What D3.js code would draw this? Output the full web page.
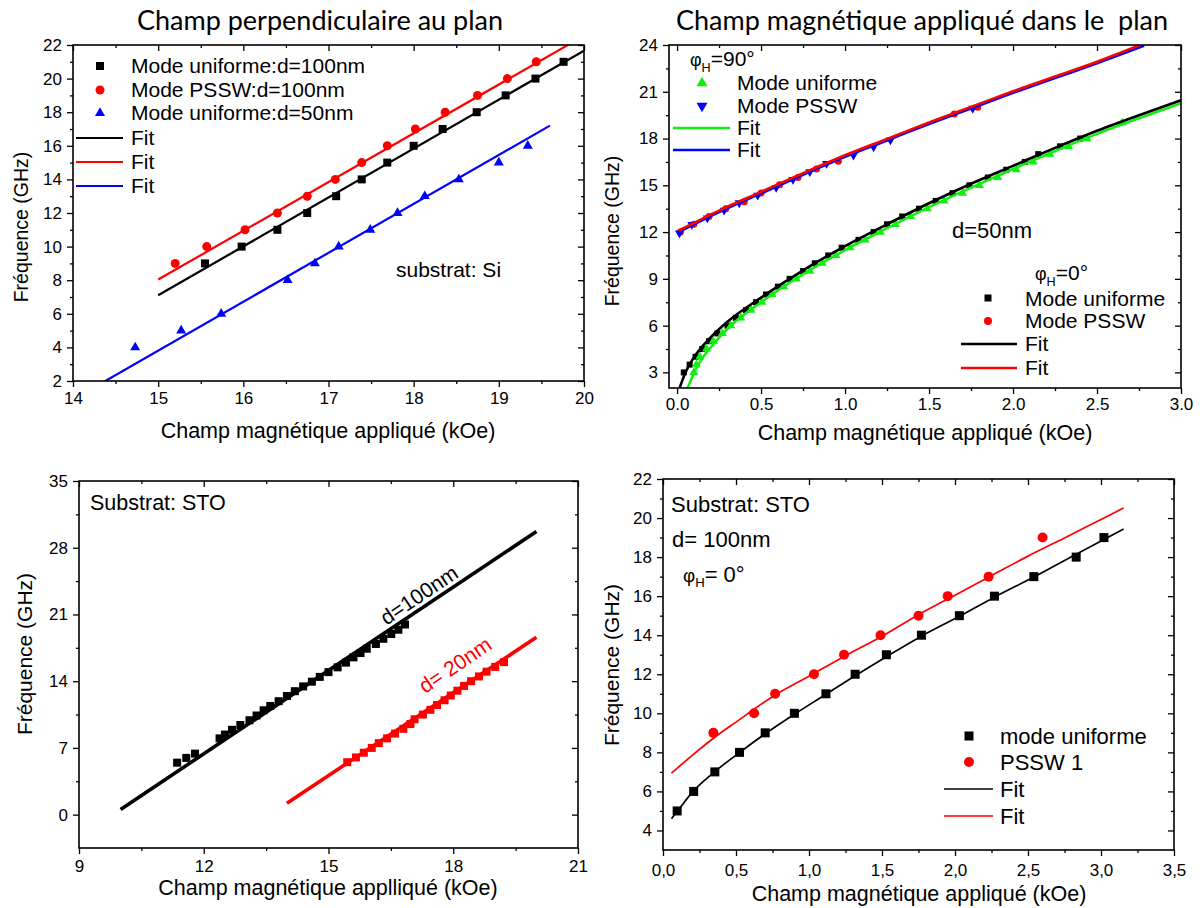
<!DOCTYPE html>
<html><head><meta charset="utf-8">
<script src="https://cdn.jsdelivr.net/npm/d3@7"></script>
<style>body{margin:0;background:#fff}svg{display:block}</style>
</head><body><svg id="c" width="1200" height="908"></svg>
<script>
// ---------------- Panel 1 : Champ perpendiculaire au plan ----------------
const p1XUni100 = [15.55, 15.98, 16.40, 16.75, 17.09, 17.39, 17.69, 18.00, 18.34, 18.74, 19.08, 19.43, 19.76];
const p1YUni100 = [9, 10, 11, 12, 13, 14, 15, 16, 17, 18, 19, 20, 21];
const p1XPssw100 = [15.20, 15.57, 16.02, 16.40, 16.75, 17.08, 17.39, 17.69, 18.02, 18.37, 18.75, 19.10, 19.44];
const p1YPssw100 = [9, 10, 11, 12, 13, 14, 15, 16, 17, 18, 19, 20, 21];
const p1XUni50 = [14.73, 15.27, 15.74, 16.52, 16.84, 17.12, 17.49, 17.81, 18.13, 18.53, 19.00, 19.34];
const p1YUni50 = [4, 5, 6, 8, 9, 10, 11, 12, 13, 14, 15, 16];
const p1FitXUni100 = [15.0, 20.0];
const p1FitYUni100 = [7.1, 21.66];
const p1FitXPssw100 = [15.0, 20.0];
const p1FitYPssw100 = [8.04, 22.55];
const p1FitXUni50 = [14.38, 19.6];
const p1FitYUni50 = [2.0, 17.2];
const p1XTicks = ["14", "15", "16", "17", "18", "19", "20"];
const p1YTicks = ["2", "4", "6", "8", "10", "12", "14", "16", "18", "20", "22"];

// ---------------- Panel 2 : Champ dans le plan ----------------
const p2XPsswBlue = [0.014, 0.088, 0.18, 0.28, 0.37, 0.48, 0.59, 0.69, 0.79, 0.89, 1.05, 1.17, 1.27, 1.76];
const p2YPsswBlue = [11.94, 12.48, 12.9, 13.4, 13.87, 14.36, 14.85, 15.37, 15.86, 16.4, 16.93, 17.46, 17.9, 19.93];
const p2XPsswRed = [0.02, 0.1, 0.19, 0.29, 0.4, 0.5, 0.61, 0.72, 0.83, 0.96, 1.65, 1.79];
const p2YPsswRed = [12.0, 12.5, 13.0, 13.5, 13.95, 14.5, 15.04, 15.5, 16.04, 16.54, 19.57, 20.0];
const p2XUniBlack = [0.04, 0.075, 0.11, 0.15, 0.19, 0.24, 0.30, 0.35, 0.41, 0.47, 0.53, 0.60, 0.67, 0.75, 0.82, 0.90, 0.98, 1.08, 1.17, 1.25, 1.34, 1.44, 1.54, 1.64, 1.74, 1.85, 1.96, 2.07, 2.15, 2.28, 2.40];
const p2YUniBlack = [3.0, 3.5, 4.0, 4.5, 5.0, 5.5, 6.0, 6.5, 7.0, 7.5, 8.0, 8.5, 9.0, 9.5, 10.0, 10.5, 11.0, 11.5, 12.0, 12.5, 13.0, 13.5, 14.0, 14.5, 15.0, 15.5, 16.0, 16.5, 17.0, 17.5, 18.0];
const p2XUniGreen = [0.10, 0.115, 0.135, 0.175, 0.215, 0.27, 0.32, 0.38, 0.44, 0.505, 0.565, 0.635, 0.71, 0.79, 0.865, 0.945, 1.03, 1.12, 1.21, 1.30, 1.39, 1.49, 1.59, 1.70, 1.80, 1.91, 2.02, 2.12, 2.22, 2.33, 2.44, 2.65];
const p2YUniGreen = [3.0, 3.5, 4.0, 4.5, 5.0, 5.5, 6.0, 6.5, 7.0, 7.5, 8.0, 8.5, 9.0, 9.5, 10.0, 10.5, 11.0, 11.5, 12.0, 12.5, 13.0, 13.5, 14.0, 14.5, 15.0, 15.5, 16.0, 16.5, 17.0, 17.5, 18.0, 19.0];
const p2FitXRed = [0.01, 0.25, 0.5, 0.75, 1.0, 1.25, 1.5, 1.75, 2.0, 2.25, 2.5, 2.756];
const p2FitYRed = [12.1, 13.38, 14.58, 15.78, 16.93, 17.98, 19.03, 20.03, 21.03, 21.98, 22.93, 24.0];
const p2FitXBlue = [0.01, 0.25, 0.5, 0.75, 1.0, 1.25, 1.5, 1.75, 2.0, 2.25, 2.5, 2.78];
const p2FitYBlue = [12.0, 13.28, 14.48, 15.68, 16.83, 17.88, 18.93, 19.93, 20.93, 21.88, 22.83, 23.95];
const p2FitXBlack = [0.015, 0.05, 0.1, 0.2, 0.3, 0.5, 0.75, 1.0, 1.25, 1.5, 1.75, 2.0, 2.25, 2.5, 2.75, 3.0];
const p2FitYBlack = [2.0, 3.0, 3.95, 5.25, 6.25, 7.8, 9.55, 11.1, 12.5, 13.85, 15.1, 16.25, 17.4, 18.5, 19.5, 20.45];
const p2FitXGreen = [0.063, 0.1, 0.15, 0.2, 0.3, 0.5, 0.75, 1.0, 1.25, 1.5, 1.75, 2.0, 2.25, 2.5, 2.75, 3.0];
const p2FitYGreen = [2.0, 2.95, 3.9, 4.6, 5.8, 7.5, 9.3, 10.85, 12.25, 13.6, 14.85, 16.05, 17.2, 18.3, 19.3, 20.25];
const p2XTicks = ["0.0", "0.5", "1.0", "1.5", "2.0", "2.5", "3.0"];
const p2YTicks = ["3", "6", "9", "12", "15", "18", "21", "24"];

// ---------------- Panel 3 : STO, champ fort ----------------
const p3XD100 = [11.36, 11.58, 11.79, 12.38, 12.51, 12.68, 12.88, 13.10, 13.27, 13.44, 13.60, 13.80, 14.00, 14.19, 14.39, 14.60, 14.79, 15.00, 15.22, 15.42, 15.60, 15.77, 15.92, 16.14, 16.32, 16.51, 16.68, 16.84];
const p3YD100 = [5.45, 5.95, 6.4, 8.0, 8.4, 8.9, 9.4, 9.9, 10.4, 10.95, 11.4, 11.9, 12.45, 12.95, 13.45, 13.95, 14.45, 14.95, 15.45, 15.95, 16.5, 16.95, 17.4, 17.9, 18.45, 18.95, 19.4, 19.95];
const p3XD20 = [15.45, 15.66, 15.85, 16.04, 16.21, 16.41, 16.60, 16.80, 16.97, 17.07, 17.27, 17.45, 17.61, 17.79, 17.94, 18.10, 18.26, 18.43, 18.62, 18.80, 19.01, 19.22];
const p3YD20 = [5.5, 6.0, 6.5, 7.0, 7.5, 8.0, 8.5, 9.0, 9.5, 10.0, 10.5, 11.0, 11.5, 12.0, 12.5, 13.0, 13.5, 14.0, 14.5, 15.0, 15.5, 16.0];
const p3FitXD100 = [10.0, 20.0];
const p3FitYD100 = [0.55, 29.7];
const p3FitXD20 = [14.0, 20.0];
const p3FitYD20 = [1.2, 18.6];
const p3XTicks = ["9", "12", "15", "18", "21"];
const p3YTicks = ["0", "7", "14", "21", "28", "35"];

// ---------------- Panel 4 : STO, d=100nm, phiH=0 ----------------
const p4XUni = [0.097, 0.21, 0.355, 0.524, 0.70, 0.90, 1.116, 1.316, 1.53, 1.77, 2.03, 2.27, 2.54, 2.83, 3.02];
const p4YUni = [5, 6, 7, 8, 9, 10, 11, 12, 13, 14, 15, 16, 17, 18, 19];
const p4XPssw = [0.345, 0.624, 0.768, 1.034, 1.24, 1.49, 1.75, 1.95, 2.23, 2.60];
const p4YPssw = [9, 10, 11, 12, 13, 14, 15, 16, 17, 19];
const p4FitXUni = [0.058, 0.1, 0.2, 0.35, 0.52, 0.7, 0.9, 1.1, 1.3, 1.53, 1.77, 2.03, 2.27, 2.54, 2.83, 3.02, 3.155];
const p4FitYUni = [4.6, 5.0, 5.95, 6.98, 7.97, 8.95, 9.95, 10.9, 11.85, 12.9, 13.95, 14.97, 15.95, 16.98, 18.15, 18.9, 19.44];
const p4FitXPssw = [0.058, 0.2, 0.35, 0.5, 0.75, 1.0, 1.25, 1.5, 1.75, 2.0, 2.25, 2.5, 2.75, 3.0, 3.155];
const p4FitYPssw = [6.93, 7.85, 8.75, 9.55, 10.85, 11.9, 12.95, 13.95, 15.05, 16.05, 17.05, 18.05, 18.98, 19.93, 20.52];
const p4XTicks = ["0,0", "0,5", "1,0", "1,5", "2,0", "2,5", "3,0", "3,5"];
const p4YTicks = ["4", "6", "8", "10", "12", "14", "16", "18", "20", "22"];

// ======================================================================
const FONT = '"Liberation Sans", Arial, Helvetica, sans-serif';
const TFONT = 'Lato, "Open Sans", sans-serif';
const svg = d3.select('#c');
svg.append('rect').attr('width', 1200).attr('height', 908).attr('fill', '#fff');
const num = s => +s.replace(',', '.');

function minorVals(labels) {
  const v = labels.map(num);
  const out = [];
  for (let i = 0; i < v.length - 1; i++) out.push((v[i] + v[i + 1]) / 2);
  return out;
}

function makePanel(o) {
  const g = svg.append('g');
  const x = d3.scaleLinear().domain(o.xd).range([o.l, o.r]);
  const y = d3.scaleLinear().domain(o.yd).range([o.b, o.t]);
  const cid = 'clip' + o.id;
  svg.append('clipPath').attr('id', cid).append('rect')
    .attr('x', o.l).attr('y', o.t).attr('width', o.r - o.l).attr('height', o.b - o.t);
  const xt = o.xTicks.map(num), yt = o.yTicks.map(num);
  const xm = minorVals(o.xTicks);
  const ym = minorVals(o.yTicks);
  const fx = d3.scaleOrdinal().domain(xt).range(o.xTicks);
  const fy = d3.scaleOrdinal().domain(yt).range(o.yTicks);
  const axes = g.append('g');
  const ax = (axis, tx, ty) => {
    const a = axes.append('g').attr('transform', `translate(${tx},${ty})`).call(axis);
    a.select('.domain').remove();
    return a;
  };
  ax(d3.axisBottom(x).tickValues(xt).tickSize(6).tickPadding(o.xpad).tickFormat(d => fx(d)), 0, o.b);
  ax(d3.axisBottom(x).tickValues(xm).tickSize(3).tickFormat(''), 0, o.b);
  ax(d3.axisTop(x).tickValues(xt).tickSize(-6).tickFormat(''), 0, o.t);
  ax(d3.axisTop(x).tickValues(xm).tickSize(-3).tickFormat(''), 0, o.t);
  ax(d3.axisLeft(y).tickValues(yt).tickSize(6).tickPadding(o.ypad).tickFormat(d => fy(d)), o.l, 0);
  ax(d3.axisLeft(y).tickValues(ym).tickSize(3).tickFormat(''), o.l, 0);
  ax(d3.axisRight(y).tickValues(yt).tickSize(-6).tickFormat(''), o.r, 0);
  ax(d3.axisRight(y).tickValues(ym).tickSize(-3).tickFormat(''), o.r, 0);
  axes.selectAll('.tick line').attr('stroke', '#000').attr('stroke-width', 1.3);
  axes.selectAll('.tick text').attr('font-family', FONT).attr('font-size', o.tfs).attr('fill', '#000');
  const plot = g.append('g').attr('clip-path', `url(#${cid})`);
  const over = g.append('g');
  g.append('rect').attr('x', o.l).attr('y', o.t).attr('width', o.r - o.l).attr('height', o.b - o.t)
    .attr('fill', 'none').attr('stroke', '#000').attr('stroke-width', 1.6);
  return { g, plot, over, x, y };
}

function text(g, str, x, y, size, opt = {}) {
  const t = g.append('text').attr('x', x).attr('y', y + 0.35 * size)
    .attr('font-family', opt.font || FONT).attr('font-size', size)
    .attr('fill', opt.color || '#000').attr('text-anchor', opt.anchor || 'start').text(str);
  if (opt.rotate !== undefined) t.attr('transform', `rotate(${opt.rotate},${x},${y})`);
  return t;
}
function phiText(g, x, y, size, rest) {
  const t = g.append('text').attr('x', x).attr('y', y + 0.35 * size)
    .attr('font-family', FONT).attr('font-size', size).attr('fill', '#000');
  t.append('tspan').text('φ').attr('font-size', size * 0.85);
  t.append('tspan').text('H').attr('font-size', size * 0.6).attr('dy', size * 0.25);
  t.append('tspan').text(rest).attr('dy', -size * 0.25);
}

function scatter(p, X, Y, kind, color, sz) {
  const pts = d3.zip(X, Y);
  const sel = p.plot.selectAll(null).data(pts);
  if (kind === 'square') {
    sel.enter().append('rect').attr('x', d => p.x(d[0]) - sz / 2).attr('y', d => p.y(d[1]) - sz / 2)
      .attr('width', sz).attr('height', sz).attr('fill', color);
  } else if (kind === 'circle') {
    sel.enter().append('circle').attr('cx', d => p.x(d[0])).attr('cy', d => p.y(d[1]))
      .attr('r', sz / 2).attr('fill', color);
  } else {
    const sym = d3.symbol().type(d3.symbolTriangle).size(sz * sz * 0.433);
    sel.enter().append('path').attr('d', sym)
      .attr('transform', d => `translate(${p.x(d[0])},${p.y(d[1])})${kind === 'tridown' ? ' rotate(180)' : ''}`)
      .attr('fill', color);
  }
}
function fit(p, X, Y, color, w) {
  const line = d3.line().x(d => p.x(d[0])).y(d => p.y(d[1])).curve(d3.curveMonotoneX);
  p.plot.append('path').datum(d3.zip(X, Y)).attr('d', line).attr('fill', 'none')
    .attr('stroke', color).attr('stroke-width', w).attr('stroke-linejoin', 'round');
}
function legMarker(g, kind, cx, cy, color, sz) {
  if (kind === 'square') g.append('rect').attr('x', cx - sz / 2).attr('y', cy - sz / 2).attr('width', sz).attr('height', sz).attr('fill', color);
  else if (kind === 'circle') g.append('circle').attr('cx', cx).attr('cy', cy).attr('r', sz / 2).attr('fill', color);
  else g.append('path').attr('d', d3.symbol().type(d3.symbolTriangle).size(sz * sz * 0.433)())
    .attr('transform', `translate(${cx},${cy})${kind === 'tridown' ? ' rotate(180)' : ''}`).attr('fill', color);
}
function legLine(g, x1, x2, y, color, w) {
  g.append('line').attr('x1', x1).attr('x2', x2).attr('y1', y).attr('y2', y).attr('stroke', color).attr('stroke-width', w);
}

// ---------------- Panel 1 ----------------
{
  const p = makePanel({ id: 1, l: 73, r: 584, t: 45, b: 381, xd: [14, 20], yd: [2, 22],
    xTicks: p1XTicks, yTicks: p1YTicks, xpad: 5, ypad: 5, tfs: 17 });
  scatter(p, p1XUni100, p1YUni100, 'square', '#000', 8);
  scatter(p, p1XPssw100, p1YPssw100, 'circle', '#ff0000', 9);
  scatter(p, p1XUni50, p1YUni50, 'triangle', '#0000ff', 10);
  fit(p, p1FitXUni100, p1FitYUni100, '#000', 2.2);
  fit(p, p1FitXPssw100, p1FitYPssw100, '#ff0000', 2.2);
  fit(p, p1FitXUni50, p1FitYUni50, '#0000ff', 2.2);
  const g = p.over;
  legMarker(g, 'square', 100, 66, '#000', 8);
  legMarker(g, 'circle', 100, 90, '#ff0000', 9);
  legMarker(g, 'triangle', 100, 113, '#0000ff', 10);
  legLine(g, 76, 123, 138, '#000', 2.2);
  legLine(g, 76, 123, 162, '#ff0000', 2.2);
  legLine(g, 76, 123, 186, '#0000ff', 2.2);
  text(g, 'Mode uniforme:d=100nm', 131, 66, 21);
  text(g, 'Mode PSSW:d=100nm', 131, 90, 21);
  text(g, 'Mode uniforme:d=50nm', 131, 113, 21);
  text(g, 'Fit', 131, 138, 21);
  text(g, 'Fit', 131, 162, 21);
  text(g, 'Fit', 131, 186, 21);
  text(g, 'substrat: Si', 396, 270, 21);
  text(svg, 'Champ perpendiculaire au plan', 320, 21, 27, { font: TFONT, anchor: 'middle' });
  text(svg, 'Champ magnétique appliqué (kOe)', 328, 430, 21.5, { anchor: 'middle' });
  text(svg, 'Fréquence (GHz)', 21, 227, 19.5, { anchor: 'middle', rotate: -90 });
}

// ---------------- Panel 2 ----------------
{
  const p = makePanel({ id: 2, l: 669, r: 1181, t: 45, b: 388, xd: [-0.048, 3.0], yd: [2, 24],
    xTicks: p2XTicks, yTicks: p2YTicks, xpad: 4, ypad: 5, tfs: 17 });
  scatter(p, p2XPsswRed, p2YPsswRed, 'circle', '#ff0000', 7);
  scatter(p, p2XPsswBlue, p2YPsswBlue, 'tridown', '#0000ff', 9);
  scatter(p, p2XUniBlack, p2YUniBlack, 'square', '#000', 6);
  scatter(p, p2XUniGreen, p2YUniGreen, 'triangle', '#11ee11', 9);
  fit(p, p2FitXBlue, p2FitYBlue, '#0000ff', 2.6);
  fit(p, p2FitXRed, p2FitYRed, '#ff0000', 2.6);
  fit(p, p2FitXGreen, p2FitYGreen, '#11ee11', 2.6);
  fit(p, p2FitXBlack, p2FitYBlack, '#000', 2.6);
  const g = p.over;
  phiText(g, 690, 59, 21, '=90°');
  legMarker(g, 'triangle', 702, 83, '#11ee11', 11);
  legMarker(g, 'tridown', 702, 106, '#0000ff', 11);
  legLine(g, 673, 730, 128, '#11ee11', 2.6);
  legLine(g, 673, 730, 150, '#0000ff', 2.6);
  text(g, 'Mode uniforme', 737, 83, 21);
  text(g, 'Mode PSSW', 737, 106, 21);
  text(g, 'Fit', 737, 128, 21);
  text(g, 'Fit', 737, 150, 21);
  text(g, 'd=50nm', 952, 230, 22);
  phiText(g, 1035, 273, 21, '=0°');
  legMarker(g, 'square', 988, 298, '#000', 7);
  legMarker(g, 'circle', 988, 321, '#ff0000', 8);
  legLine(g, 961, 1017, 344, '#000', 2.6);
  legLine(g, 961, 1017, 368, '#ff0000', 2.6);
  text(g, 'Mode uniforme', 1025, 299, 21);
  text(g, 'Mode PSSW', 1025, 321, 21);
  text(g, 'Fit', 1025, 344, 21);
  text(g, 'Fit', 1025, 368, 21);
  text(svg, 'Champ magnétique appliqué dans le  plan', 922, 21, 27, { font: TFONT, anchor: 'middle' }).style('white-space', 'pre');
  text(svg, 'Champ magnétique appliqué (kOe)', 925, 432, 21.5, { anchor: 'middle' });
  text(svg, 'Fréquence (GHz)', 612, 231, 19.5, { anchor: 'middle', rotate: -90 });
}

// ---------------- Panel 3 ----------------
{
  const p = makePanel({ id: 3, l: 79, r: 578, t: 481, b: 848, xd: [9, 21], yd: [-3.5, 35],
    xTicks: p3XTicks, yTicks: p3YTicks, xpad: 6, ypad: 5, tfs: 17 });
  scatter(p, p3XD100, p3YD100, 'square', '#000', 8);
  scatter(p, p3XD20, p3YD20, 'square', '#ff0000', 8);
  fit(p, p3FitXD100, p3FitYD100, '#000', 3.6);
  fit(p, p3FitXD20, p3FitYD20, '#ff0000', 3.6);
  const g = p.over;
  text(g, 'Substrat: STO', 90, 502, 21.5);
  text(g, 'd=100nm', 419, 595, 21, { anchor: 'middle', rotate: -34 });
  text(g, 'd= 20nm', 455, 665, 21, { anchor: 'middle', rotate: -34, color: '#ff0000' });
  text(svg, 'Champ magnétique applliqué (kOe)', 328, 887, 21.5, { anchor: 'middle' });
  text(svg, 'Fréquence (GHz)', 25, 654, 21, { anchor: 'middle', rotate: -90 });
}

// ---------------- Panel 4 ----------------
{
  const p = makePanel({ id: 4, l: 663, r: 1174, t: 479, b: 850, xd: [0, 3.5], yd: [3, 22],
    xTicks: p4XTicks, yTicks: p4YTicks, xpad: 8, ypad: 5, tfs: 17 });
  scatter(p, p4XUni, p4YUni, 'square', '#000', 9);
  scatter(p, p4XPssw, p4YPssw, 'circle', '#ff0000', 10);
  fit(p, p4FitXUni, p4FitYUni, '#000', 1.7);
  fit(p, p4FitXPssw, p4FitYPssw, '#ff0000', 1.7);
  const g = p.over;
  text(g, 'Substrat: STO', 671, 504, 22);
  text(g, 'd= 100nm', 672, 539, 22);
  phiText(g, 683, 574, 22, '= 0°');
  legMarker(g, 'square', 969, 736, '#000', 9);
  legMarker(g, 'circle', 969, 762, '#ff0000', 10);
  legLine(g, 944, 993, 789, '#000', 1.7);
  legLine(g, 944, 993, 816, '#ff0000', 1.7);
  text(g, 'mode uniforme', 1000, 736, 22);
  text(g, 'PSSW 1', 1000, 762, 22);
  text(g, 'Fit', 1000, 789, 22);
  text(g, 'Fit', 1000, 816, 22);
  text(svg, 'Champ magnétique appliqué (kOe)', 919, 893, 21.5, { anchor: 'middle' });
  text(svg, 'Fréquence (GHz)', 612, 665, 21, { anchor: 'middle', rotate: -90 });
}
</script></body></html>
